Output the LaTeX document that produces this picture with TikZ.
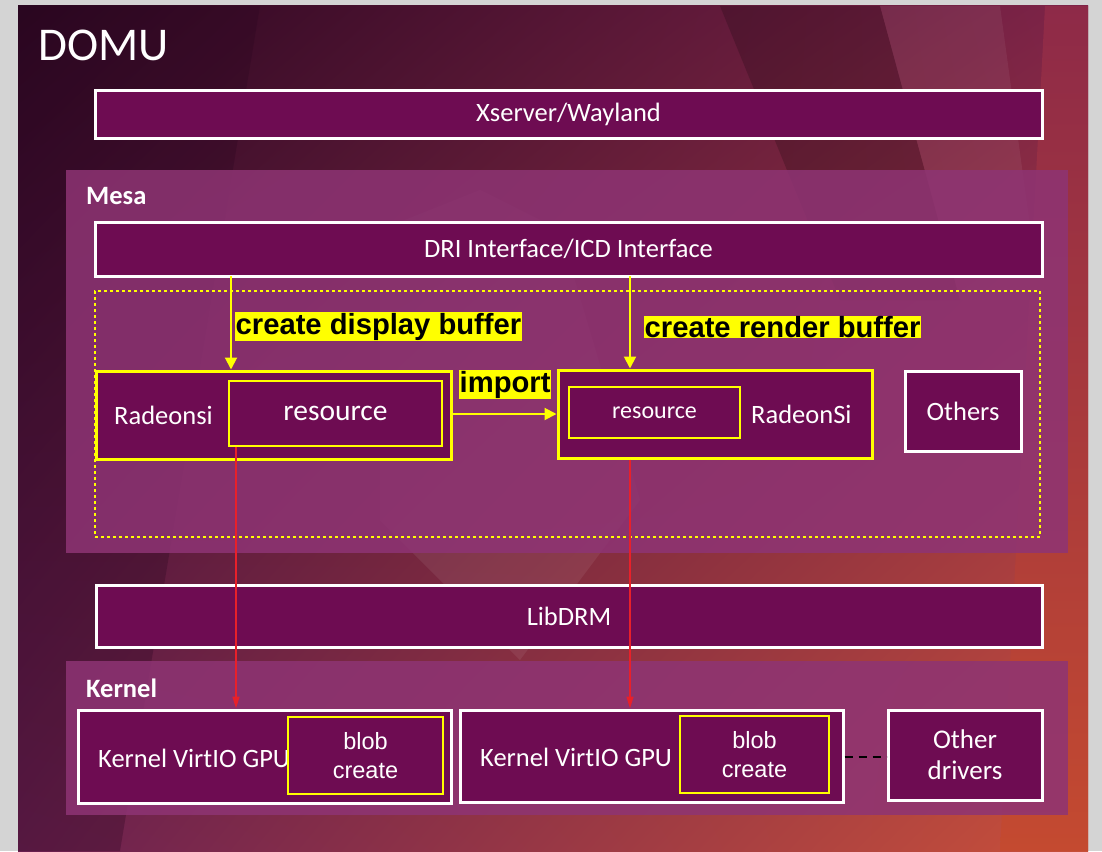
\documentclass[tikz,border=0pt]{standalone}
\usepackage{fontspec}
\setmainfont{Carlito}
\newfontfamily\arialf{Liberation Sans}
\usetikzlibrary{arrows.meta,shadings}
\definecolor{frame}{HTML}{D4D4D4}
\definecolor{bgUL}{HTML}{2A0620}
\definecolor{bgUR}{HTML}{7E2448}
\definecolor{bgLL}{HTML}{6A2050}
\definecolor{bgLR}{HTML}{C8503A}
\definecolor{stripT}{HTML}{8E2A48}
\definecolor{stripB}{HTML}{C44A30}
\definecolor{panel}{HTML}{8E3474}
\definecolor{boxfill}{HTML}{6E0C52}
\definecolor{ylw}{HTML}{FFFF00}
\definecolor{redarr}{HTML}{E8202A}
\tikzset{
  whitebox/.style={draw=white, line width=3pt, fill=boxfill, text=white, inner sep=0pt, font=\fontsize{26.5}{30}\selectfont},
  yellowbox/.style={draw=ylw, line width=3pt, fill=boxfill, text=white, inner sep=0pt},
  innerbox/.style={draw=ylw, line width=1.5pt, fill=boxfill, text=white, inner sep=0pt},
  panelbox/.style={fill=panel, fill opacity=0.85, draw=none, inner sep=0pt},
  ylabel/.style={fill=ylw, text=black, font=\arialf\bfseries\fontsize{29.2}{30}\selectfont, inner sep=0.5pt},
  yarrow/.style={draw=ylw, line width=2pt, -{Triangle[length=12pt,width=12pt]}},
  rarrow/.style={draw=redarr, line width=1.6pt, -{Triangle[length=12pt,width=7pt]}},
  wtext/.style={text=white, inner sep=0pt, font=\fontsize{26.5}{30}\selectfont}
}
\begin{document}
\begin{tikzpicture}[x=1pt,y=-1pt]
\useasboundingbox (0,0) rectangle (1102,851);
\fill[frame] (0,0) rectangle (1102,851);
% slide background
\shade[upper left=bgUL, upper right=bgUR, lower left=bgLL, lower right=bgLR] (18,6) rectangle (1088,851);
\fill[bgUL, opacity=0.3] (18,6) -- (260,6) -- (120,851) -- (18,851) -- cycle;
\fill[black, opacity=0.18] (720,6) -- (880,6) -- (960,300) -- (840,300) -- cycle;
\fill[white, opacity=0.06] (880,6) -- (1000,6) -- (1040,300) -- (960,300) -- cycle;
\shade[top color=stripT, bottom color=stripB] (1045,6) -- (1088,6) -- (1088,851) -- (1000,851) -- cycle;
\fill[white, opacity=0.07] (380,230) -- (480,190) -- (560,230) -- (640,500) -- (520,660) -- (380,520) -- cycle;
% title
\node[wtext, anchor=west, font=\fontsize{47}{50}\selectfont] (domu) at (38,45) {DOMU};
% Xserver
\node[whitebox, minimum width=947pt, minimum height=48pt] (xs) at (568.5,114) {Xserver/Wayland};
% Mesa panel
\node[panelbox, minimum width=1002pt, minimum height=383pt] (mesa) at (567,361.5) {};
\node[wtext, anchor=west, font=\bfseries\fontsize{26.5}{30}\selectfont] (mesalbl) at (86,196) {Mesa};
\node[whitebox, minimum width=947pt, minimum height=54pt] (dri) at (568.5,249) {DRI Interface/ICD Interface};
\node[draw=ylw, dashed, line width=1.2pt, minimum width=945pt, minimum height=246pt, inner sep=0pt] (dash) at (567.5,414) {};
% Radeonsi left
\node[yellowbox, minimum width=355pt, minimum height=88pt] (rad1) at (273.5,415) {};
\node[wtext, anchor=west] (rad1lbl) at (114,415) {Radeonsi};
\node[innerbox, minimum width=213pt, minimum height=65pt, font=\fontsize{29.5}{32}\selectfont] (res1) at (335.5,413.5) {resource};
% RadeonSi right
\node[yellowbox, minimum width=314pt, minimum height=88pt] (rad2) at (715,414) {};
\node[innerbox, minimum width=171pt, minimum height=51pt, font=\fontsize{24}{26}\selectfont] (res2) at (654.5,412.5) {resource};
\node[wtext, anchor=west] (rad2lbl) at (751,414) {RadeonSi};
% Others
\node[whitebox, minimum width=116pt, minimum height=80pt] (oth) at (963,411) {Others};
% yellow arrows and labels
\coordinate (a1) at (231,276);
\coordinate (a2) at (630,276);
\draw[yarrow] (a1) -- (rad1.north -| a1);
\draw[yarrow] (a2) -- (rad2.north -| a2);
\node[ylabel, anchor=west] (lbl1) at (235,326.5) {create display buffer};
\node[ylabel, anchor=west] (lbl2) at (644,327) {create render buffer};
\draw[yarrow] (rad1.east |- 0,414) -- (rad2.west |- 0,414);
\node[ylabel, anchor=west] (lbl3) at (459,384.5) {import};
% LibDRM
\node[whitebox, minimum width=946pt, minimum height=62pt] (drm) at (569,616) {LibDRM};
% Kernel panel
\node[panelbox, minimum width=1002pt, minimum height=154pt] (kern) at (567,738) {};
\node[wtext, anchor=west, font=\bfseries\fontsize{26.5}{30}\selectfont] (kernlbl) at (86,688) {Kernel};
% Kernel VirtIO boxes
\node[whitebox, minimum width=373pt, minimum height=93pt] (kv1) at (264.5,756.5) {};
\node[wtext, anchor=west] (kv1lbl) at (98,758) {Kernel VirtIO GPU};
\node[innerbox, minimum width=155pt, minimum height=77pt, align=center, font=\arialf\fontsize{23.5}{29}\selectfont] (blob1) at (365.5,755.5) {blob\\create};
\node[whitebox, minimum width=383pt, minimum height=92pt] (kv2) at (651.5,756) {};
\node[wtext, anchor=west] (kv2lbl) at (480,757) {Kernel VirtIO GPU};
\node[innerbox, minimum width=149pt, minimum height=77pt, align=center, font=\arialf\fontsize{23.5}{29}\selectfont] (blob2) at (754.5,754.5) {blob\\create};
\node[whitebox, minimum width=154pt, minimum height=90pt, align=center, font=\fontsize{27}{31}\selectfont] (odrv) at (965,755) {Other\\drivers};
\draw[black, line width=2pt, dash pattern=on 8pt off 6pt] (kv2.east |- 0,757) -- (odrv.west |- 0,757);
% red arrows
\draw[rarrow] (res1.south -| 236,0) -- (kv1.north -| 236,0);
\draw[rarrow] (rad2.south -| 630,0) -- (kv2.north -| 630,0);
\end{tikzpicture}
\end{document}
